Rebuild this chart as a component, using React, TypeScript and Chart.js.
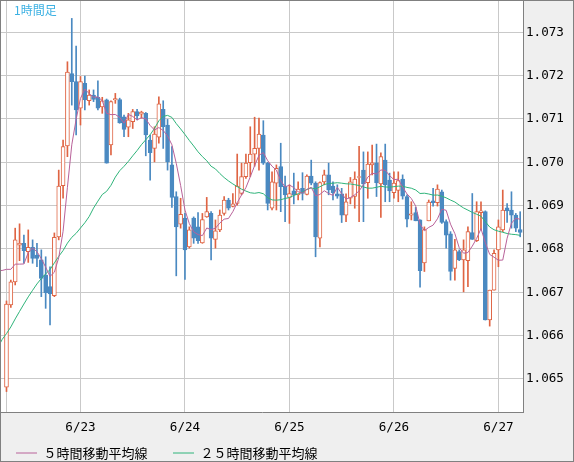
import React, { useEffect, useRef } from "react";
import { Chart, registerables } from "chart.js";

Chart.register(...registerables);

// ---- data ----
const chartTitle = "1時間足";
const legendNames = ["５時間移動平均線", "２５時間移動平均線"];
const maPeriods = [5, 25];

const xTickIndex = [0, 17, 41, 65, 89, 113];
const xTickLabels = ["", "6/23", "6/24", "6/25", "6/26", "6/27"];
const yTicks = [1.065, 1.066, 1.067, 1.068, 1.069, 1.07, 1.071, 1.072, 1.073];

// closes before the first visible candle (needed for the moving averages)
const priorCloses = [
  1.0632, 1.0633,
  1.0634, 1.0636, 1.0638, 1.0637, 1.0639, 1.064, 1.0641, 1.0642, 1.0643, 1.0645,
  1.0644, 1.0657, 1.067, 1.0678, 1.0685, 1.0689, 1.0688, 1.0684, 1.06794, 1.0666,
  1.06724, 1.06761, 1.06813, 1.06794,
];

const opens = [
  1.06481, 1.06671, 1.06724, 1.06809, 1.06813, 1.06794, 1.06804, 1.06786, 1.06775, 1.0674,
  1.06713, 1.06692, 1.06828, 1.06946, 1.07038, 1.07205, 1.07186, 1.07125, 1.07182, 1.07142,
  1.07155, 1.0715, 1.07128, 1.07144, 1.0704, 1.07144, 1.07145, 1.07105, 1.07081, 1.07094,
  1.07117, 1.07111, 1.07113, 1.07051, 1.07032, 1.07058, 1.07122, 1.07086, 1.06994, 1.06921,
  1.06857, 1.06871, 1.06805, 1.06871, 1.06851, 1.06814, 1.06874, 1.06882, 1.06822, 1.06844,
  1.06882, 1.06913, 1.06898, 1.06905, 1.06928, 1.06967, 1.06999, 1.07019, 1.07032, 1.07063,
  1.06998, 1.06894, 1.06952, 1.0699, 1.06945, 1.06919, 1.06934, 1.06925, 1.0694, 1.06926,
  1.06968, 1.06952, 1.06825, 1.06955, 1.06971, 1.06945, 1.06927, 1.06927, 1.06878, 1.06917,
  1.06921, 1.06965, 1.06982, 1.06953, 1.06994, 1.06999, 1.0695, 1.07005, 1.06959, 1.0693,
  1.06935, 1.06961, 1.06921, 1.06878, 1.06884, 1.06867, 1.06768, 1.06865, 1.06911, 1.06907,
  1.06932, 1.06863, 1.06835, 1.06755, 1.06794, 1.06775, 1.06773, 1.06838, 1.06819, 1.06884,
  1.06886, 1.06636, 1.06705, 1.06798, 1.06844, 1.06895, 1.0689, 1.06878, 1.06845,
];
const highs = [
  1.0668, 1.06728, 1.06848, 1.06858, 1.06832, 1.06844, 1.06821, 1.06813, 1.06798, 1.06782,
  1.06759, 1.06837, 1.06982, 1.07051, 1.07232, 1.07332, 1.07268, 1.07198, 1.07199, 1.07167,
  1.07167, 1.07188, 1.0715, 1.07146, 1.07142, 1.07159, 1.07148, 1.07109, 1.07113, 1.07122,
  1.07122, 1.07118, 1.07115, 1.07063, 1.07082, 1.07151, 1.07142, 1.07099, 1.07036, 1.06932,
  1.06917, 1.06882, 1.06851, 1.06874, 1.06884, 1.06882, 1.06919, 1.06886, 1.06867, 1.0689,
  1.06921, 1.06917, 1.06928, 1.07019, 1.06998, 1.07019, 1.07082, 1.07104, 1.07102, 1.07096,
  1.07, 1.06978, 1.06994, 1.07044, 1.06968, 1.06948, 1.06975, 1.06955, 1.06976, 1.06971,
  1.07005, 1.06955, 1.06955, 1.06982, 1.06998, 1.06955, 1.06948, 1.0694, 1.06927, 1.06965,
  1.06978, 1.07037, 1.07024, 1.07024, 1.0704, 1.07042, 1.07022, 1.07042, 1.06975, 1.06978,
  1.06978, 1.06971, 1.06925, 1.06909, 1.06896, 1.06867, 1.06851, 1.06913, 1.0694, 1.06948,
  1.06936, 1.06867, 1.0684, 1.06822, 1.06798, 1.06821, 1.06851, 1.06928, 1.06909, 1.06909,
  1.06888, 1.06705, 1.06798, 1.06867, 1.06936, 1.06905, 1.06932, 1.06882, 1.06886,
];
const lows = [
  1.06471, 1.06665, 1.06717, 1.06773, 1.06767, 1.06769, 1.06767, 1.06759, 1.0669, 1.06663,
  1.06625, 1.0669, 1.06821, 1.06917, 1.07013, 1.07132, 1.07063, 1.07086, 1.07121, 1.07132,
  1.0714, 1.07121, 1.07113, 1.06998, 1.07017, 1.07136, 1.0709, 1.07059, 1.07059, 1.07078,
  1.07098, 1.07102, 1.07015, 1.06959, 1.07001, 1.07044, 1.07032, 1.06982, 1.06896, 1.06738,
  1.06848, 1.0673, 1.06802, 1.06813, 1.06813, 1.06813, 1.06873, 1.06775, 1.06802, 1.0684,
  1.06878, 1.0689, 1.06897, 1.06901, 1.06925, 1.06963, 1.06967, 1.06991, 1.06982, 1.06995,
  1.0689, 1.0689, 1.0689, 1.06886, 1.06863, 1.06859, 1.06904, 1.06913, 1.06913, 1.06925,
  1.06948, 1.06782, 1.06805, 1.06948, 1.06925, 1.06913, 1.06917, 1.06861, 1.06863, 1.06904,
  1.06894, 1.06863, 1.06863, 1.06917, 1.06971, 1.06921, 1.06873, 1.06909, 1.06909, 1.06917,
  1.06909, 1.06915, 1.06851, 1.06867, 1.06865, 1.06712, 1.06748, 1.06865, 1.06899, 1.06899,
  1.06859, 1.06802, 1.06728, 1.06728, 1.06773, 1.06701, 1.06713, 1.06822, 1.06817, 1.06844,
  1.06636, 1.06622, 1.06705, 1.06759, 1.0684, 1.06861, 1.06848, 1.0684, 1.06828,
];
const closes = [
  1.06673, 1.06724, 1.06821, 1.06813, 1.06796, 1.06804, 1.06778, 1.06778, 1.06732, 1.06699,
  1.06696, 1.06827, 1.06945, 1.07036, 1.07208, 1.07186, 1.07121, 1.07186, 1.07144, 1.07155,
  1.07145, 1.07125, 1.07142, 1.06998, 1.0714, 1.07147, 1.07091, 1.07076, 1.07098, 1.07117,
  1.07107, 1.07116, 1.07063, 1.07022, 1.07065, 1.07135, 1.07082, 1.07001, 1.06919, 1.06851,
  1.0688, 1.06798, 1.06844, 1.06825, 1.06819, 1.06868, 1.06886, 1.06825, 1.06842, 1.06878,
  1.06913, 1.06894, 1.06904, 1.06945, 1.06967, 1.06998, 1.07019, 1.07032, 1.07065, 1.06998,
  1.06905, 1.06955, 1.06986, 1.06944, 1.06925, 1.06928, 1.06925, 1.06938, 1.06928, 1.06968,
  1.06952, 1.06828, 1.06953, 1.06971, 1.06936, 1.0693, 1.06922, 1.06878, 1.06909, 1.06955,
  1.06961, 1.06967, 1.0695, 1.06996, 1.06999, 1.06953, 1.07013, 1.06948, 1.06934, 1.06952,
  1.06958, 1.06922, 1.06869, 1.06881, 1.06865, 1.0675, 1.06845, 1.06908, 1.06907, 1.06938,
  1.06861, 1.06832, 1.06748, 1.06798, 1.06775, 1.06798, 1.0684, 1.06822, 1.06886, 1.06888,
  1.06636, 1.06705, 1.0679, 1.06851, 1.0689, 1.06888, 1.06878, 1.06848, 1.06838,
];

// ---- styles ----
const UP = "#df6443";
const DOWN = "#4a89c1";
const MA_COLORS = ["#b9629a", "#2fb47a"];
const GRID = "#c9c9c9";
const FRAME = "#808080";
const TICK_FONT = { family: "'DejaVu Sans Mono', monospace", size: 12.6 };

function movingAverage(period: number) {
  const all = priorCloses.concat(closes);
  const off = priorCloses.length;
  const pts: { x: number; y: number }[] = [];
  for (let j = period - 1; j < all.length; j++) {
    let s = 0;
    for (let k = j - period + 1; k <= j; k++) s += all[k];
    pts.push({ x: j - off, y: s / period });
  }
  return pts;
}

const frameAndTitle = {
  id: "frameAndTitle",
  beforeDraw(chart: any) {
    const { ctx, chartArea: a, width, height } = chart;
    ctx.save();
    ctx.fillStyle = "#efefef";
    ctx.fillRect(0, 0, width, height);
    ctx.fillStyle = "#ffffff";
    ctx.fillRect(a.left, a.top, a.right - a.left, a.bottom - a.top);
    ctx.restore();
  },
  afterLayout(chart: any) {
    const lg = chart.legend;
    if (lg) {
      lg.left = -9.5;
      lg.top = 421;
    }
  },
  afterDraw(chart: any) {
    const { ctx, width, height } = chart;
    ctx.save();
    ctx.strokeStyle = FRAME;
    ctx.lineWidth = 1;
    ctx.strokeRect(0.5, 0.5, width - 1, height - 1);
    ctx.fillStyle = "#3cb1e3";
    ctx.font = "12px 'Noto Sans CJK JP'";
    ctx.textBaseline = "middle";
    ctx.textAlign = "left";
    ctx.fillText(chartTitle, 14, 10);
    ctx.restore();
  },
};

export default function App() {
  const ref = useRef<HTMLCanvasElement>(null);
  useEffect(() => {
    const idx = closes.map((_, i) => i);
    const up = idx.map((i) => closes[i] >= opens[i]);
    const chart = new Chart(ref.current as HTMLCanvasElement, {
      type: "bar",
      data: {
        datasets: [
          {
            type: "bar",
            label: "wick",
            data: idx.map((i) => ({ x: i, y: [lows[i], highs[i]] })) as any,
            backgroundColor: up.map((u) => (u ? UP : DOWN)),
            borderWidth: 0,
            barThickness: 1,
            grouped: false,
            order: 4,
          } as any,
          {
            type: "bar",
            label: "body",
            data: idx.map((i) => ({ x: i, y: [opens[i], closes[i]] })) as any,
            backgroundColor: up.map((u) => (u ? "#ffffff" : DOWN)),
            borderColor: up.map((u) => (u ? UP : DOWN)),
            borderWidth: 1,
            borderSkipped: false,
            barThickness: 4,
            grouped: false,
            order: 3,
          } as any,
          ...maPeriods.map((p, k) => ({
            type: "line" as const,
            label: legendNames[k],
            data: movingAverage(p),
            borderColor: MA_COLORS[k],
            backgroundColor: MA_COLORS[k],
            borderWidth: 1,
            pointRadius: 0,
            tension: 0,
            fill: false,
            order: 1 + k,
          })),
        ],
      },
      options: {
        animation: false,
        responsive: false,
        layout: { padding: { left: 1, top: 1, right: 1, bottom: 1 } },
        scales: {
          x: {
            type: "linear",
            min: -1.26,
            max: 118.65,
            offset: false,
            grid: { color: GRID, drawTicks: false, offset: false },
            border: { display: true, color: FRAME },
            ticks: {
              padding: 8,
              autoSkip: false,
              maxRotation: 0,
              color: "#000",
              font: TICK_FONT,
              callback: (v: any) => {
                const k = xTickIndex.indexOf(Number(v));
                return k >= 0 ? xTickLabels[k] : "";
              },
            },
            afterBuildTicks: (s: any) => {
              s.ticks = xTickIndex.map((v) => ({ value: v }));
            },
            afterFit: (s: any) => {
              s.height = 24.5;
              s.paddingLeft = 0;
              s.paddingRight = 0;
            },
          },
          y: {
            type: "linear",
            position: "right",
            min: 1.064238,
            max: 1.073722,
            grid: { color: GRID, drawTicks: false },
            border: { display: true, color: FRAME },
            ticks: {
              padding: 3,
              color: "#000",
              font: TICK_FONT,
              callback: (v: any) => Number(v).toFixed(3),
            },
            afterBuildTicks: (s: any) => {
              s.ticks = yTicks.map((v) => ({ value: v }));
            },
            afterFit: (s: any) => {
              s.width = 50;
              s.paddingTop = 0;
              s.paddingBottom = 0;
            },
          },
        } as any,
        plugins: {
          tooltip: { enabled: false },
          title: { display: false },
          legend: {
            display: true,
            position: "bottom",
            align: "start",
            maxHeight: 24.5,
            labels: {
              usePointStyle: true,
              pointStyle: "line",
              pointStyleWidth: 21,
              padding: 25.5,
              color: "#000",
              font: { family: "'Noto Sans CJK JP'", size: 13 },
              filter: (item: any) => item.datasetIndex >= 2,
            },
          } as any,
        },
      },
      plugins: [frameAndTitle as any],
    });
    return () => chart.destroy();
  }, []);
  return (
    <div style={{ position: "absolute", left: 0, top: 0, width: 574, height: 462 }}>
      <canvas ref={ref} width={574} height={462} style={{ display: "block", width: 574, height: 462 }} />
    </div>
  );
}
